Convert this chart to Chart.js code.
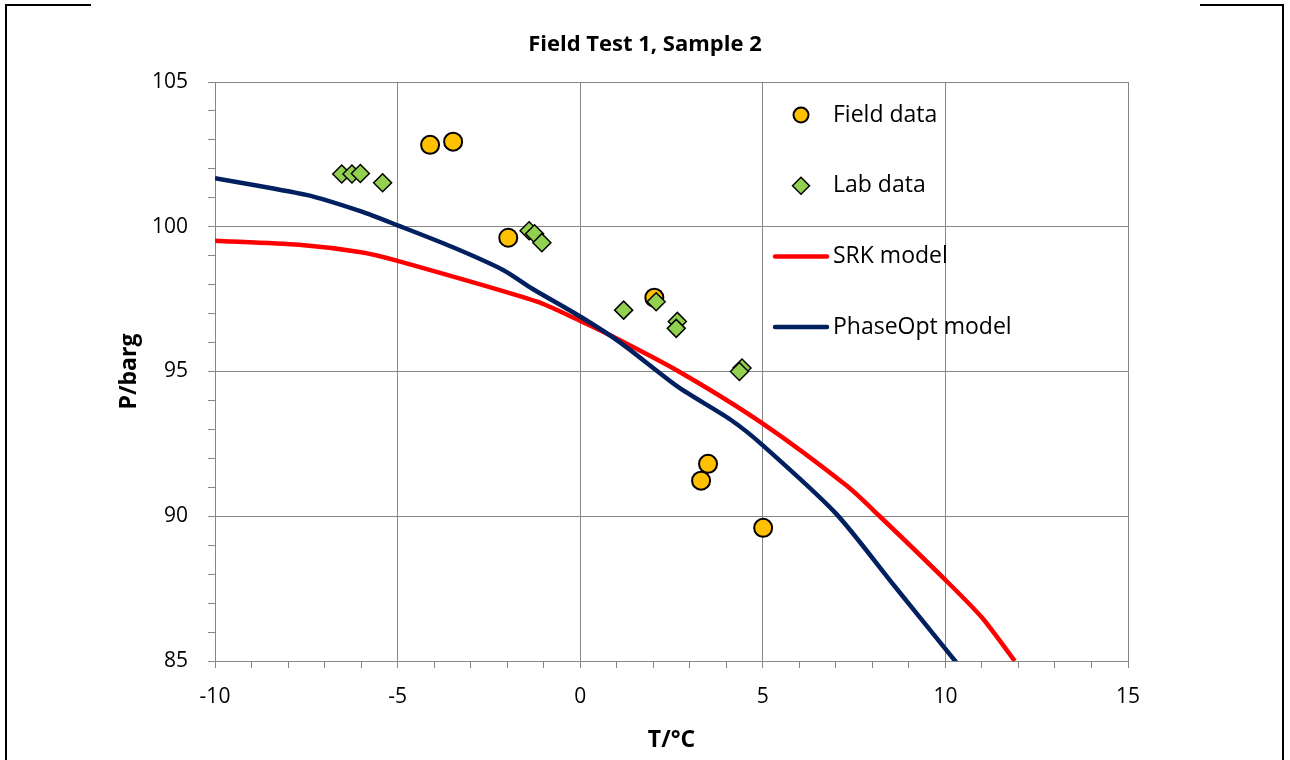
<!DOCTYPE html>
<html>
<head>
<meta charset="utf-8">
<title>Field Test 1, Sample 2</title>
<script src="https://cdn.jsdelivr.net/npm/chart.js@4.4.0/dist/chart.umd.min.js"></script>
<style>
  html, body { margin: 0; padding: 0; background: #fff; }
  #wrap { position: relative; width: 1290px; height: 760px; overflow: hidden; }
  .edge { position: absolute; background: #000; }
</style>
</head>
<body>
<div id="wrap">
  <canvas id="chart1" width="1290" height="760"></canvas>
  <div class="edge" style="left:5px;top:4px;width:2px;height:756px"></div>
  <div class="edge" style="left:5px;top:4px;width:86px;height:2px"></div>
  <div class="edge" style="left:1282px;top:4px;width:2px;height:756px"></div>
  <div class="edge" style="left:1200px;top:4px;width:84px;height:2px"></div>
</div>
<script>
// field measurements
const fieldT = [-4.11, -3.48, -1.97, 2.03, 3.50, 3.31, 5.01];
const fieldP = [102.83, 102.94, 99.62, 97.55, 91.81, 91.23, 89.60];

// lab measurements
const labT = [-6.53, -6.25, -6.02, -5.41, -1.40, -1.25, -1.05, 1.19, 2.08, 2.66, 2.63, 4.43, 4.36];
const labP = [101.82, 101.82, 101.84, 101.52, 99.86, 99.76, 99.45, 97.12, 97.41, 96.73, 96.49, 95.12, 95.00];

// SRK model curve
const srkT = [-10, -7.7, -6.0, -5.0, -1.2, 0, 0.7, 2.7, 5.0, 7.3, 8.2, 10.0, 11.0, 11.9];
const srkP = [99.52, 99.38, 99.12, 98.82, 97.42, 96.75, 96.33, 95.0, 93.2, 91.05, 90.0, 87.8, 86.5, 85.0];

// PhaseOpt model curve
const phaseT = [-10, -7.5, -6.0, -5.0, -3.5, -2.1, -1.3, 0, 1.1, 2.7, 4.1, 5.0, 7.0, 8.6, 10.3];
const phaseP = [101.68, 101.1, 100.53, 100.05, 99.3, 98.5, 97.85, 96.9, 96.0, 94.45, 93.35, 92.45, 90.1, 87.6, 84.95];

const seriesNames = ["Field data", "Lab data", "SRK model", "PhaseOpt model"];

const xMin = -10, xMax = 15;
const yMin = 85, yMax = 105;
const majorStep = 5;

function pairs(xs, ys) {
  return xs.map((x, i) => ({ x: x, y: ys[i] }));
}

const GRID = "#868686";
Chart.defaults.font.family = '"Open Sans", sans-serif';
Chart.defaults.color = "#000";

function isMajor(v) {
  return Math.abs(Math.round(v) % majorStep) === 0;
}

// legend drawn inside the plot, like the spreadsheet one
const boxLegend = {
  id: "boxLegend",
  afterDatasetsDraw(chart) {
    const ctx = chart.ctx;
    const ds = chart.data.datasets;
    const top = 115, step = 70.7, markX = 801, textX = 833;
    ctx.save();
    ctx.font = '23px "Open Sans"';
    ctx.textBaseline = "middle";
    ds.forEach((d, i) => {
      const y = top + step * i;
      if (d.showLine) {
        ctx.strokeStyle = d.borderColor;
        ctx.lineWidth = d.borderWidth;
        ctx.lineCap = "round";
        ctx.beginPath();
        ctx.moveTo(775, y);
        ctx.lineTo(827, y);
        ctx.stroke();
      } else {
        ctx.fillStyle = d.backgroundColor;
        ctx.strokeStyle = d.borderColor;
        ctx.lineWidth = d.borderWidth;
        ctx.beginPath();
        if (d.pointStyle === "rectRot") {
          const r = 8.5;
          ctx.moveTo(markX - r, y);
          ctx.lineTo(markX, y - r);
          ctx.lineTo(markX + r, y);
          ctx.lineTo(markX, y + r);
          ctx.closePath();
        } else {
          ctx.arc(markX, y, 7.5, 0, Math.PI * 2);
        }
        ctx.fill();
        ctx.stroke();
      }
      ctx.fillStyle = "#000";
      ctx.fillText(d.label, textX, y);
    });
    ctx.restore();
  }
};

const ctx = document.getElementById("chart1").getContext("2d");

const myChart = new Chart(ctx, {
  type: "scatter",
  data: {
    datasets: [
      {
        label: seriesNames[0],
        data: pairs(fieldT, fieldP),
        pointStyle: "circle",
        pointRadius: 9,
        backgroundColor: "#FFC000",
        borderColor: "#000",
        borderWidth: 2,
        order: 1
      },
      {
        label: seriesNames[1],
        data: pairs(labT, labP),
        pointStyle: "rectRot",
        pointRadius: 9,
        backgroundColor: "#92D050",
        borderColor: "#000",
        borderWidth: 1.5,
        order: 0
      },
      {
        label: seriesNames[2],
        data: pairs(srkT, srkP),
        showLine: true,
        pointRadius: 0,
        borderColor: "#FF0000",
        backgroundColor: "#FF0000",
        borderWidth: 4.5,
        tension: 0.25,
        order: 3
      },
      {
        label: seriesNames[3],
        data: pairs(phaseT, phaseP),
        showLine: true,
        pointRadius: 0,
        borderColor: "#002060",
        backgroundColor: "#002060",
        borderWidth: 4.5,
        tension: 0.25,
        order: 2
      }
    ]
  },
  options: {
    responsive: false,
    animation: false,
    devicePixelRatio: 1,
    events: [],
    layout: { padding: 0 },
    plugins: {
      legend: { display: false },
      tooltip: { enabled: false },
      title: {
        display: true,
        text: "Field Test 1, Sample 2",
        color: "#000",
        font: { size: 22, weight: "bold" },
        padding: { top: 32, bottom: 23.6 }
      }
    },
    scales: {
      x: {
        type: "linear",
        min: xMin,
        max: xMax,
        afterFit: (scale) => { scale.height = 99; },
        ticks: {
          stepSize: 1,
          autoSkip: false,
          maxRotation: 0,
          padding: 16,
          font: { size: 21 },
          color: "#000",
          callback: (v) => (isMajor(v) ? String(Math.round(v)) : "")
        },
        grid: {
          color: (c) => (c.tick && isMajor(c.tick.value) ? GRID : "rgba(0,0,0,0)"),
          tickColor: GRID,
          tickLength: 7,
          lineWidth: 1
        },
        border: { color: GRID, width: 1 },
        title: {
          display: true,
          text: "T/°C",
          color: "#000",
          font: { size: 23, weight: "bold" },
          padding: { top: 0, bottom: 6 }
        }
      },
      y: {
        type: "linear",
        min: yMin,
        max: yMax,
        afterFit: (scale) => { scale.width = 215; },
        ticks: {
          stepSize: 1,
          autoSkip: false,
          padding: 20,
          font: { size: 21 },
          color: "#000",
          callback: (v) => (isMajor(v) ? String(Math.round(v)) : "")
        },
        grid: {
          color: (c) => (c.tick && isMajor(c.tick.value) ? GRID : "rgba(0,0,0,0)"),
          tickColor: GRID,
          tickLength: 7,
          lineWidth: 1
        },
        border: { color: GRID, width: 1 },
        title: {
          display: true,
          text: "P/barg",
          color: "#000",
          font: { size: 23, weight: "bold" },
          padding: { top: 116, bottom: 0 }
        }
      },
      // empty right margin so the title centres on the whole page
      spacer: {
        type: "linear",
        position: "right",
        afterFit: (scale) => { scale.width = 162; },
        ticks: { display: false },
        grid: { display: false },
        border: { display: false }
      }
    }
  },
  plugins: [boxLegend]
});
</script>
</body>
</html>
